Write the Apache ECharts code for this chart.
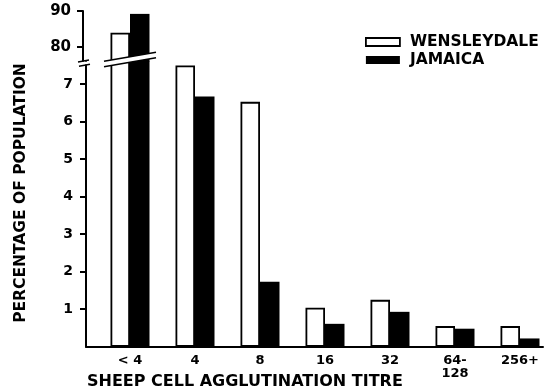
<!DOCTYPE html>
<html><head><meta charset="utf-8">
<script src="https://cdn.jsdelivr.net/npm/echarts@6/dist/echarts.min.js"></script>
<style>html,body{margin:0;padding:0;background:#fff}#c{width:553px;height:389px}</style>
</head><body><div id="c"></div>
<script>
// ---- data ----
const categories = ['< 4', '4', '8', '16', '32', '64-\n128', '256+'];
const wensleydale = [84, 7.5, 6.53, 1.04, 1.25, 0.55, 0.55];
const jamaica = [89.2, 6.67, 1.73, 0.61, 0.93, 0.48, 0.22];
const lowerTicks = [1, 2, 3, 4, 5, 6, 7];
const upperTicks = [80, 90];
const seriesNames = ['WENSLEYDALE', 'JAMAICA'];
const yName = 'PERCENTAGE OF POPULATION';
const xName = 'SHEEP CELL AGGLUTINATION TITRE';
const lowerRange = [0, 7.62];
const upperRange = [76, 90];

const FONT = 'DejaVu Sans';
const upperOnly = arr => arr.map(v => v > upperRange[0] ? v : '-');

const chart = echarts.init(document.getElementById('c'), null, {renderer: 'canvas'});
const axisLineStyle = {color: '#000', width: 2};
const wStyle = {color: '#fff', borderColor: '#000', borderWidth: 1.8};
const jStyle = {color: '#000'};

chart.setOption({
  animation: false,
  backgroundColor: '#fff',
  title: {
    text: xName, left: 82, top: 369, padding: 5,
    textStyle: {fontFamily: FONT, fontWeight: 'bold', fontSize: 16, color: '#000'}
  },
  legend: {
    orient: 'vertical', left: 360, top: 29, itemWidth: 34, itemHeight: 8, itemGap: 2,
    textStyle: {fontFamily: FONT, fontWeight: 'bold', fontSize: 15.5, color: '#000', lineHeight: 16, padding: [0, 0, 0, 5]},
    data: [
      {name: seriesNames[0], icon: 'rect', itemStyle: {color: '#fff', borderColor: '#000', borderWidth: 1.8}},
      {name: seriesNames[1], icon: 'rect', itemStyle: {color: '#000', borderWidth: 0}}
    ],
    selectedMode: false
  },
  grid: [
    {left: 97.5, right: 0.5, top: 61, bottom: 42.3},
    {left: 97.5, right: 0.5, top: 11, bottom: 327.5},
    {left: 86, right: 10, top: 61, bottom: 42.3}
  ],
  xAxis: [
    {gridIndex: 0, type: 'category', data: categories,
     axisLine: {show: false}, axisTick: {show: false},
     axisLabel: {fontFamily: FONT, fontWeight: 'bold', fontSize: 13, color: '#000', margin: 7, lineHeight: 13, interval: 0}},
    {gridIndex: 1, type: 'category', data: categories, show: false},
    {gridIndex: 2, type: 'value', min: 0, max: 1,
     axisLine: {show: true, onZero: false, lineStyle: axisLineStyle},
     axisTick: {show: false}, axisLabel: {show: false}, splitLine: {show: false}}
  ],
  yAxis: [
    {gridIndex: 0, type: 'value', min: lowerRange[0], max: lowerRange[1], offset: 11.5,
     axisLine: {show: true, lineStyle: axisLineStyle},
     axisTick: {show: true, length: 6, lineStyle: {width: 2, color: '#000'}, customValues: lowerTicks},
     axisLabel: {fontFamily: FONT, fontWeight: 'bold', fontSize: 14, color: '#000', margin: 13, customValues: lowerTicks},
     splitLine: {show: false}},
    {gridIndex: 1, type: 'value', min: upperRange[0], max: upperRange[1], offset: 14.5,
     axisLine: {show: true, lineStyle: axisLineStyle},
     axisTick: {show: true, length: 6, lineStyle: {width: 2, color: '#000'}, customValues: upperTicks},
     axisLabel: {fontFamily: FONT, fontWeight: 'bold', fontSize: 15, color: '#000', margin: 12, customValues: upperTicks},
     splitLine: {show: false}},
    {gridIndex: 2, type: 'value', show: false}
  ],
  series: [
    {type: 'bar', name: seriesNames[0], xAxisIndex: 0, yAxisIndex: 0, data: wensleydale,
     barWidth: 19.5, barGap: '0%', itemStyle: wStyle, clip: true},
    {type: 'bar', name: seriesNames[1], xAxisIndex: 0, yAxisIndex: 0, data: jamaica,
     barWidth: 19.5, barGap: '0%', itemStyle: jStyle, clip: true},
    {type: 'bar', name: seriesNames[0], xAxisIndex: 1, yAxisIndex: 1, data: upperOnly(wensleydale),
     barWidth: 19.5, barGap: '0%', itemStyle: wStyle, clip: true},
    {type: 'bar', name: seriesNames[1], xAxisIndex: 1, yAxisIndex: 1, data: upperOnly(jamaica),
     barWidth: 19.5, barGap: '0%', itemStyle: jStyle, clip: true}
  ],
  graphic: [
    // axis break on the bars
    {type: 'polygon', z: 100, shape: {points: [[104, 61.2], [156, 52.2], [156, 57.8], [104, 66.8]]},
     style: {fill: '#fff'}},
    {type: 'line', z: 101, shape: {x1: 104, y1: 61.2, x2: 156, y2: 52.2}, style: {stroke: '#000', lineWidth: 1.6}},
    {type: 'line', z: 101, shape: {x1: 104, y1: 66.8, x2: 156, y2: 57.8}, style: {stroke: '#000', lineWidth: 1.6}},
    // axis break on y axis
    {type: 'rect', z: 100, shape: {x: 76, y: 61.6, width: 16, height: 2.9}, style: {fill: '#fff'}},
    {type: 'line', z: 101, shape: {x1: 78, y1: 62, x2: 89, y2: 60}, style: {stroke: '#000', lineWidth: 1.6}},
    {type: 'line', z: 101, shape: {x1: 79, y1: 66.2, x2: 90, y2: 64.2}, style: {stroke: '#000', lineWidth: 1.6}},
    // y axis title
    {type: 'text', z: 100, x: 20.5, y: 193, rotation: Math.PI / 2,
     style: {text: yName, fill: '#000', font: 'bold 15.5px "DejaVu Sans"', align: 'center', verticalAlign: 'middle'}}
  ]
});
</script></body></html>
